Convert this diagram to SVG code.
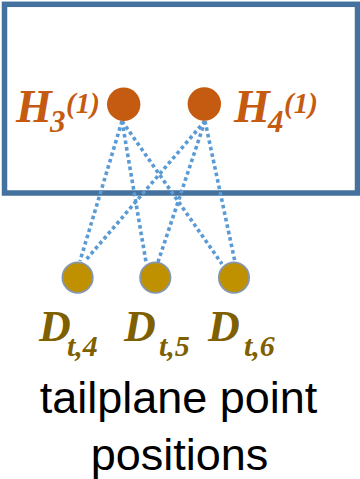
<svg xmlns="http://www.w3.org/2000/svg" width="360" height="479" viewBox="0 0 360 479">
<style>
.frame{fill:none;stroke:#44719D;stroke-width:5.5}
.hn{fill:#C55A11}
.dn{fill:#BF9000;stroke:#8497B0;stroke-width:1.8}
.lk{stroke:#5B9BD5;stroke-width:3.6;stroke-dasharray:3.6 3;fill:none}
.hl{font-family:"Liberation Serif","Times New Roman",serif;font-weight:bold;font-style:italic;fill:#C55A11}
.dl{font-family:"Liberation Serif","Times New Roman",serif;font-weight:bold;font-style:italic;fill:#7F6000}
.cap{font-family:"Liberation Sans",Arial,sans-serif;font-size:45px;fill:#000;text-anchor:middle}
</style>
<rect id="frame" class="frame" x="4.5" y="4.3" width="353" height="188.7"/>
<g id="connectors">
<line class="lk" x1="122" y1="121" x2="80" y2="261"/>
<line class="lk" x1="122" y1="121" x2="146" y2="262"/>
<line class="lk" x1="122" y1="121" x2="222" y2="264"/>
<line class="lk" x1="205" y1="121" x2="85" y2="261"/>
<line class="lk" x1="205" y1="121" x2="158" y2="262"/>
<line class="lk" x1="205" y1="121" x2="235" y2="262"/>
</g>
<g id="H3">
<circle class="hn" cx="123.7" cy="104.3" r="16.7"/>
<text class="hl"><tspan x="16" y="122" font-size="46">H</tspan><tspan x="50" y="132" font-size="31">3</tspan><tspan x="66" y="113" font-size="29">(1)</tspan></text>
</g>
<g id="H4">
<circle class="hn" cx="204.3" cy="104" r="16.7"/>
<text class="hl"><tspan x="234" y="122" font-size="46">H</tspan><tspan x="268" y="132" font-size="31">4</tspan><tspan x="284" y="113" font-size="29">(1)</tspan></text>
</g>
<g id="D4">
<circle class="dn" cx="77.6" cy="277.6" r="15.2"/>
<text class="dl"><tspan x="39" y="341" font-size="44">D</tspan><tspan x="67" y="356" font-size="30">t,4</tspan></text>
</g>
<g id="D5">
<circle class="dn" cx="155.3" cy="277.6" r="15.2"/>
<text class="dl"><tspan x="124" y="341" font-size="44">D</tspan><tspan x="159" y="356" font-size="30">t,5</tspan></text>
</g>
<g id="D6">
<circle class="dn" cx="234" cy="277.6" r="15.2"/>
<text class="dl"><tspan x="208" y="341" font-size="44">D</tspan><tspan x="244" y="356" font-size="30">t,6</tspan></text>
</g>
<g id="caption">
<text class="cap" x="178.5" y="413">tailplane point</text>
<text class="cap" x="179.5" y="470">positions</text>
</g>
</svg>
